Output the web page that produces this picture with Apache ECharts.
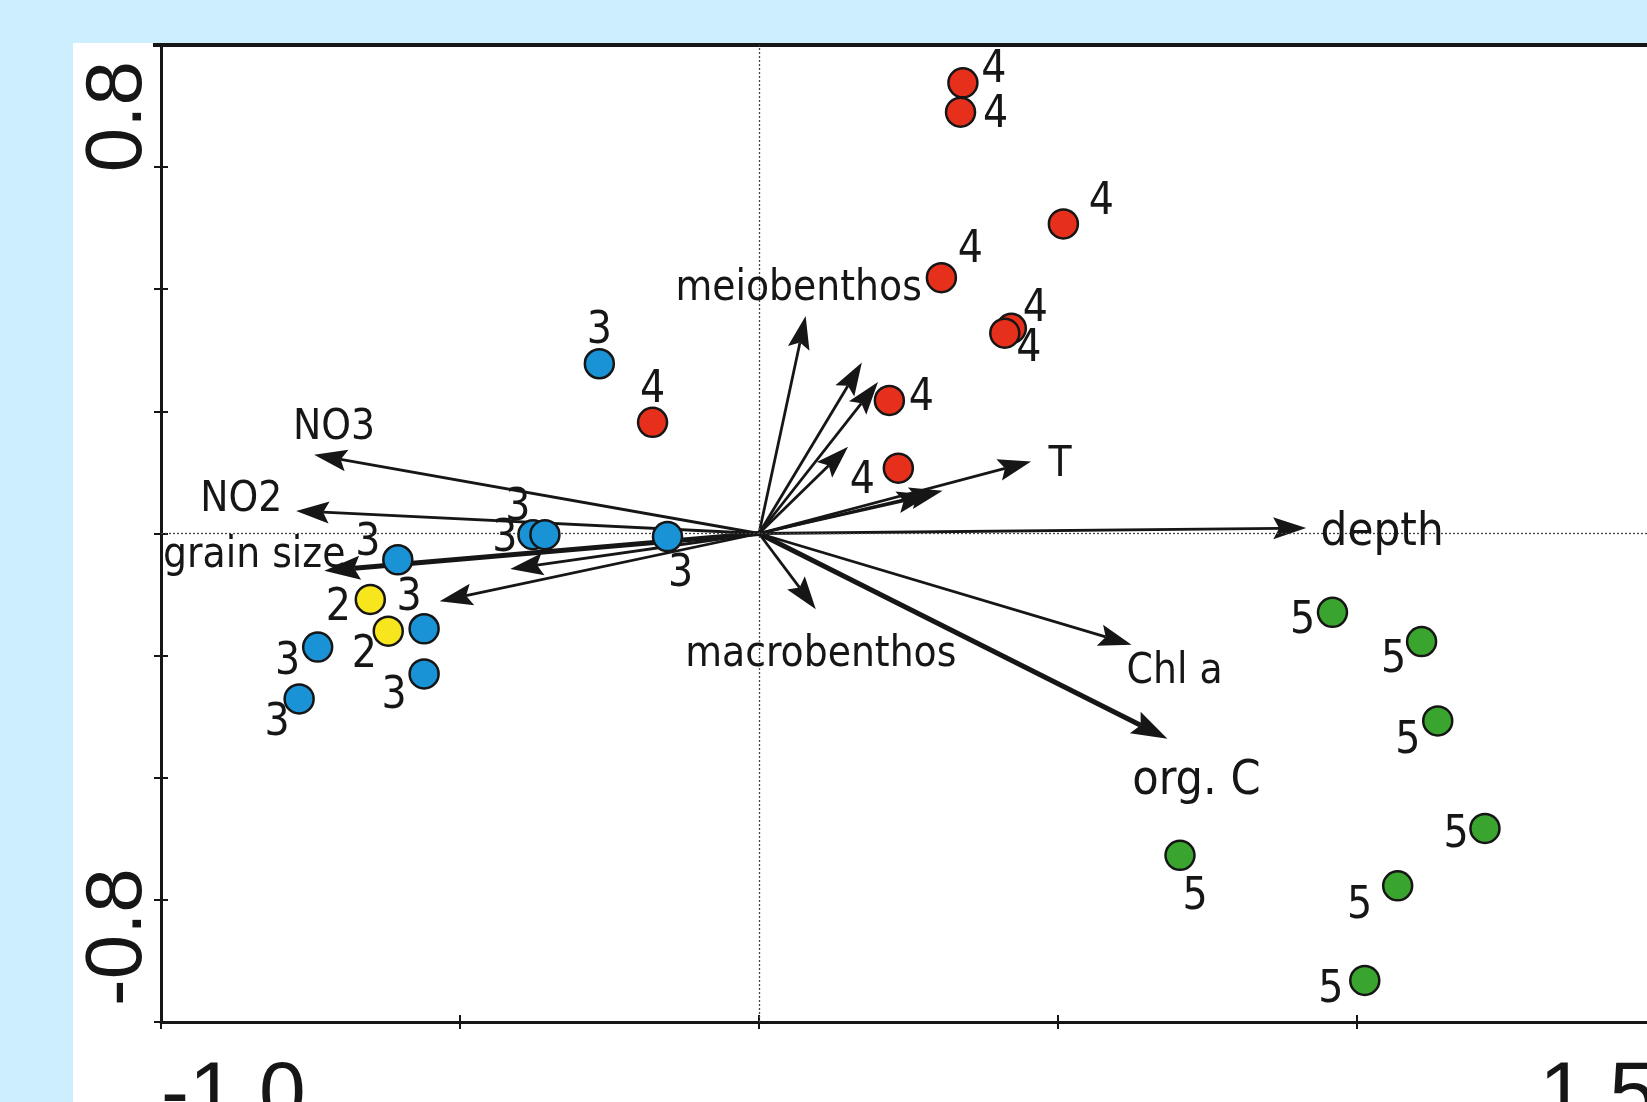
<!DOCTYPE html>
<html>
<head>
<meta charset="utf-8">
<title>RDA biplot</title>
<script src="https://cdn.jsdelivr.net/npm/echarts@6/dist/echarts.min.js"></script>
<style>
  html, body { margin: 0; padding: 0; background: #cdeeff; }
  #chart { width: 1647px; height: 1102px; }
</style>
</head>
<body>
<div id="chart"></div>
<script>
// ---- data (axis units) ----
const xLabelValues = [-1.0, 1.5];
const xTickLabels = ['-1.0', '1.5'];
const yLabelValues = [-0.8, 0.8];
const yTickLabels = ['-0.8', '0.8'];

// sites, grouped by cluster number
const group2X = [-0.650, -0.620];
const group2Y = [-0.108, -0.160];
const group3X = [-0.267, -0.378, -0.358, -0.153, -0.604, -0.560, -0.560, -0.738, -0.769];
const group3Y = [0.278, -0.002, -0.002, -0.005, -0.043, -0.156, -0.230, -0.186, -0.271];
const group4X = [0.341, 0.337, 0.509, 0.305, 0.422, 0.411, 0.218, 0.233, -0.178];
const group4Y = [0.738, 0.690, 0.507, 0.419, 0.336, 0.328, 0.218, 0.107, 0.182];
const group5X = [0.959, 1.108, 1.135, 1.214, 1.068, 1.013, 0.704];
const group5Y = [-0.129, -0.177, -0.307, -0.483, -0.577, -0.732, -0.527];

// environmental / biotic vectors (arrow tips)
const arrowNames = ['depth', 'T', '', '', 'meiobenthos', '', '', '', 'macrobenthos',
  'Chl a', 'org. C', 'NO3', 'NO2', 'grain size', '', ''];
const arrowX = [0.915, 0.455, 0.307, 0.286, 0.078, 0.172, 0.199, 0.149, 0.095,
  0.623, 0.683, -0.744, -0.774, -0.727, -0.416, -0.534];
const arrowY = [0.009, 0.118, 0.070, 0.063, 0.356, 0.280, 0.248, 0.142, -0.124,
  -0.182, -0.336, 0.129, 0.037, -0.061, -0.058, -0.111];

// ---- layout / style ----
const ink = '#161616';
const labelFont = '"DejaVu Sans Condensed", "DejaVu Sans", sans-serif';
const axisFont = '"Liberation Sans Narrow", "Liberation Sans", sans-serif';
const thickArrows = ['grain size', 'org. C'];
const bigLabels = { 'depth': 47, 'org. C': 48 };
// label centre offsets from arrow tip, px
const arrowLabelOffset = {
  'depth': [76, 5], 'T': [29, 4], 'meiobenthos': [-7, -27],
  'macrobenthos': [5, 46], 'Chl a': [43, 27], 'org. C': [29, 43],
  'NO3': [20, -27], 'NO2': [-55, -11], 'grain size': [-70, -15]
};
// label centre offsets from site, px
const offs2 = [[-32, 9], [-24, 24]];
const offs3 = [[0, -32], [-28, 5], [-27, -26], [13, 38], [-30, -16], [-15, -30], [-30, 23], [-30, 15], [-22, 25]];
const offs4 = [[31, -12], [35, 3], [38, -21], [29, -27], [24, -19], [24, 16], [32, -2], [-36, 13], [0, -32]];
const offs5 = [[-30, 9], [-28, 19], [-30, 21], [-29, 7], [-38, 21], [-34, 10], [15, 42]];

function pickLabel(values, labels, pad) {
    return function(v) {
        for (var i = 0; i < values.length; i++) {
            if (Math.abs(v - values[i]) < 1e-6) {
                // the end labels sit a little inside the plot, as in the figure
                if (!pad) return labels[i];
                return i === 0 ? pad + labels[i] : labels[i] + pad;
            }
        }
        return '';
    };
}

function siteSeries(name, xs, ys, offs, color) {
    return {
        name: name,
        type: 'scatter',
        symbolSize: 29,
        z: 5,
        itemStyle: { color: color, borderColor: ink, borderWidth: 2.5, opacity: 1 },
        data: xs.map(function(x, i) {
            return {
                value: [x, ys[i]],
                label: { offset: offs[i] }
            };
        }),
        label: {
            show: true,
            position: 'inside',
            formatter: name,
            color: ink,
            fontSize: 44,
            fontFamily: labelFont
        },
        emphasis: { disabled: true },
        animation: false
    };
}

function renderArrow(params, api) {
    var p0 = api.coord([0, 0]);
    var p1 = api.coord([api.value(0), api.value(1)]);
    var thick = api.value(2) === 1;
    var dx = p1[0] - p0[0], dy = p1[1] - p0[1];
    var len = Math.sqrt(dx * dx + dy * dy);
    var ux = dx / len, uy = dy / len, nx = -uy, ny = ux;
    var L = thick ? 36 : 33, H = thick ? 12 : 11, notch = 6;
    var bx = p1[0] - ux * L, by = p1[1] - uy * L;
    var ix = p1[0] - ux * (L - notch), iy = p1[1] - uy * (L - notch);
    return {
        type: 'group',
        children: [{
            type: 'line',
            shape: { x1: p0[0], y1: p0[1], x2: ix, y2: iy },
            style: { stroke: ink, lineWidth: thick ? 5 : 2.8 }
        }, {
            type: 'polygon',
            shape: { points: [p1, [bx + nx * H, by + ny * H], [ix, iy], [bx - nx * H, by - ny * H]] },
            style: { fill: ink }
        }]
    };
}

var chart = echarts.init(document.getElementById('chart'));

var option = {
    backgroundColor: '#cdeeff',
    animation: false,
    graphic: [{
        type: 'rect',
        left: 73, top: 43, z: -10, silent: true,
        shape: { width: 1647 - 73, height: 1102 - 43 },
        style: { fill: '#ffffff' }
    }, {
        // top frame runs a little past the left axis
        type: 'rect',
        left: 153, top: 43, z: 10, silent: true,
        shape: { width: 10, height: 4 },
        style: { fill: ink }
    }],
    grid: { left: 161, top: 45, right: -9, bottom: 80, containLabel: false, outerBoundsMode: 'none' },
    xAxis: [{
        type: 'value', min: -1, max: 1.5, interval: 0.5,
        axisLine: { onZero: false, lineStyle: { color: ink, width: 3 } },
        axisTick: { length: 7, lineStyle: { color: ink, width: 2 } },
        splitLine: { show: false },
        axisLabel: {
            formatter: pickLabel(xLabelValues, xTickLabels),
            color: ink, fontSize: 84, fontFamily: axisFont, lineHeight: 84,
            margin: 33, showMinLabel: true, showMaxLabel: true, hideOverlap: false,
            alignMinLabel: 'left', alignMaxLabel: 'right'
        }
    }, {
        type: 'value', min: -1, max: 1.5, interval: 0.5, position: 'bottom',
        axisLine: { show: false, onZero: false },
        axisTick: { inside: true, length: 7, lineStyle: { color: ink, width: 2 } },
        axisLabel: { show: false }, splitLine: { show: false }
    }, {
        type: 'value', min: -1, max: 1.5, position: 'top',
        axisLine: { onZero: false, lineStyle: { color: ink, width: 4 } },
        axisTick: { show: false }, axisLabel: { show: false }, splitLine: { show: false }
    }],
    yAxis: [{
        type: 'value', min: -0.8, max: 0.8, interval: 0.2,
        axisLine: { onZero: false, lineStyle: { color: ink, width: 3 } },
        axisTick: { length: 7, lineStyle: { color: ink, width: 2 } },
        splitLine: { show: false },
        axisLabel: {
            formatter: pickLabel(yLabelValues, yTickLabels, '\u2009'),
            rotate: 90,
            color: ink, fontSize: 80, fontFamily: axisFont, lineHeight: 80,
            margin: 2, showMinLabel: true, showMaxLabel: true, hideOverlap: false,
            alignMinLabel: 'left', alignMaxLabel: 'right'
        }
    }, {
        type: 'value', min: -0.8, max: 0.8, interval: 0.2, position: 'left',
        axisLine: { show: false, onZero: false },
        axisTick: { inside: true, length: 7, lineStyle: { color: ink, width: 2 } },
        axisLabel: { show: false }, splitLine: { show: false }
    }],
    series: [{
        // dotted zero lines
        type: 'line',
        data: [],
        silent: true,
        markLine: {
            silent: true,
            symbol: 'none',
            label: { show: false },
            lineStyle: { color: '#444', width: 1.3, type: [2, 2] },
            data: [{ xAxis: 0 }, { yAxis: 0 }]
        }
    }, {
        type: 'custom',
        z: 3,
        renderItem: renderArrow,
        data: arrowX.map(function(x, i) {
            return [x, arrowY[i], thickArrows.indexOf(arrowNames[i]) >= 0 ? 1 : 0];
        }),
        silent: true
    }, {
        type: 'scatter',
        z: 6,
        symbolSize: 0,
        silent: true,
        itemStyle: { opacity: 1 },
        data: arrowX.map(function(x, i) {
            var n = arrowNames[i];
            return {
                name: n,
                value: [x, arrowY[i]],
                label: {
                    show: n !== '',
                    offset: arrowLabelOffset[n] || [0, 0],
                    fontSize: bigLabels[n] || 42
                }
            };
        }),
        label: {
            position: 'inside',
            formatter: '{b}',
            color: ink,
            opacity: 1,
            fontFamily: labelFont
        }
    },
        siteSeries('2', group2X, group2Y, offs2, '#f7e51e'),
        siteSeries('3', group3X, group3Y, offs3, '#1992d6'),
        siteSeries('4', group4X, group4Y, offs4, '#e6301c'),
        siteSeries('5', group5X, group5Y, offs5, '#3aa52e')
    ]
};

chart.setOption(option);
</script>
</body>
</html>
